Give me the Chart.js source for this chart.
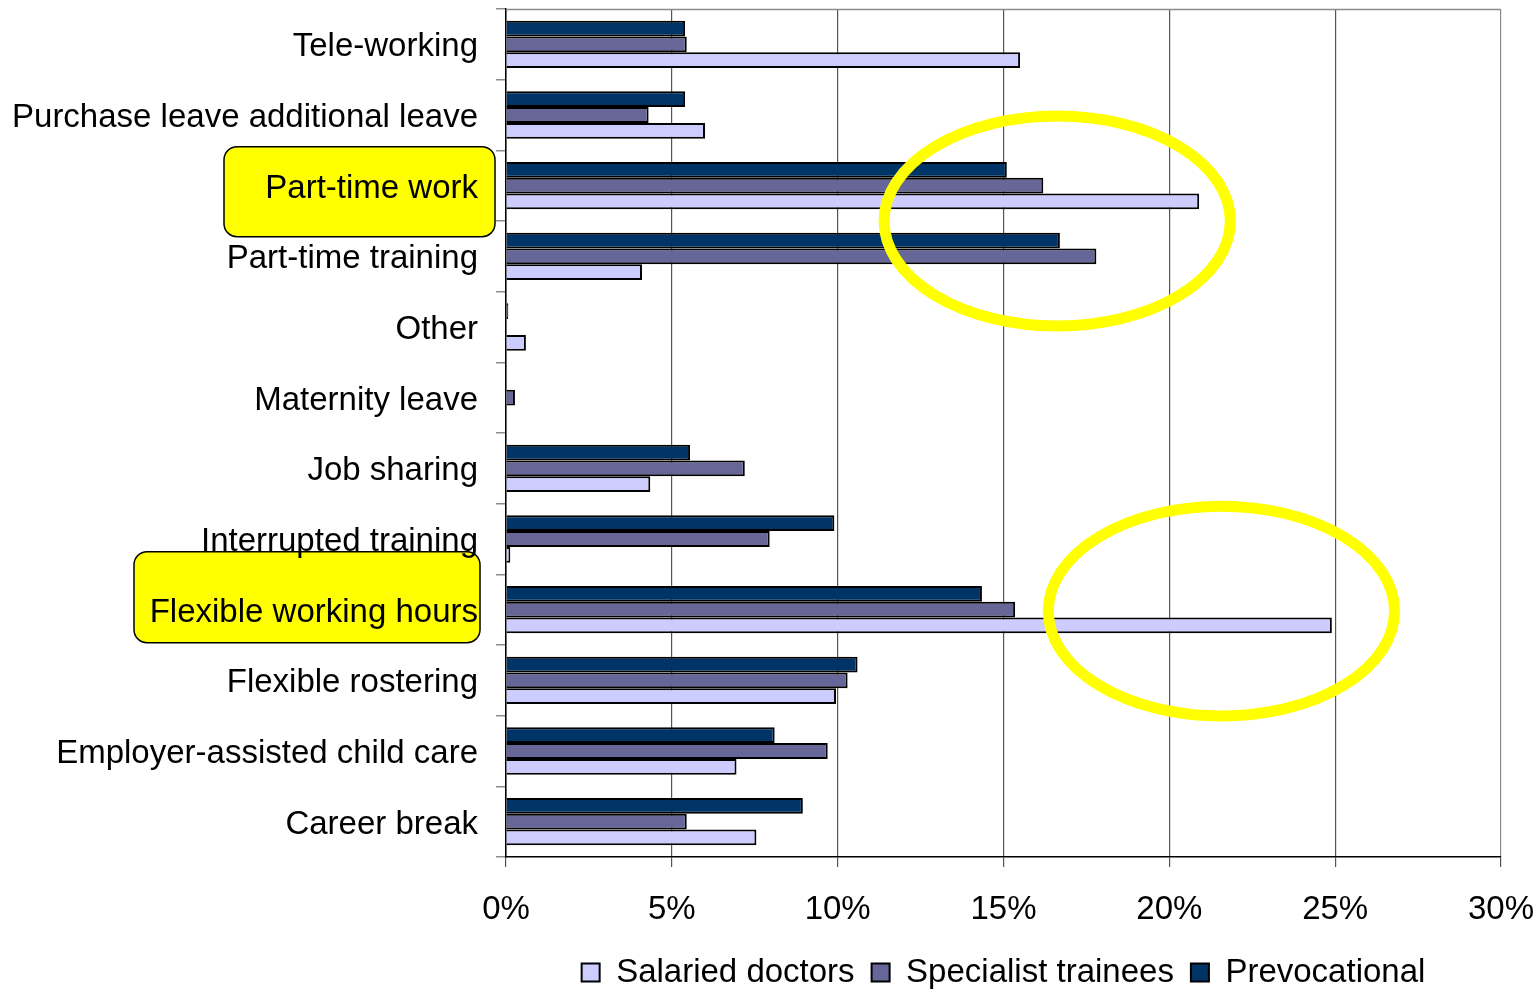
<!DOCTYPE html>
<html>
<head>
<meta charset="utf-8">
<script src="https://cdn.jsdelivr.net/npm/chart.js@4/dist/chart.umd.min.js"></script>
<style>
  html, body { margin: 0; padding: 0; background: #fff; }
  #wrap { width: 1539px; height: 989px; }
</style>
</head>
<body>
<div id="wrap"><canvas id="c" width="1539" height="989"></canvas></div>
<script>
// Flexible work options taken up, by doctor group (% of respondents)
const categories = [
  'Tele-working',
  'Purchase leave additional leave',
  'Part-time work',
  'Part-time training',
  'Other',
  'Maternity leave',
  'Job sharing',
  'Interrupted training',
  'Flexible working hours',
  'Flexible rostering',
  'Employer-assisted child care',
  'Career break'
];
const prevocational = [5.4, 5.4, 15.1, 16.7, 0.07, 0, 5.55, 9.9, 14.35, 10.6, 8.1, 8.95];
const specialistTrainees = [5.45, 4.3, 16.2, 17.8, 0, 0.27, 7.2, 7.95, 15.35, 10.3, 9.7, 5.45];
const salariedDoctors = [15.5, 6.0, 20.9, 4.1, 0.6, 0, 4.35, 0.13, 24.9, 9.95, 6.95, 7.55];
const xTicks = [0, 5, 10, 15, 20, 25, 30];

// Categories called out with a yellow label box
const highlightedLabels = ['Part-time work', 'Flexible working hours'];
// Ellipse call-outs in data space: x in %, y in category index units
const callouts = [
  { cx: 16.62, cy: 2.5, rx: 5.22, ry: 1.485 },
  { cx: 21.57, cy: 8.02, rx: 5.22, ry: 1.485 }
];

const FONT = "'Liberation Sans', Arial, sans-serif";

// Yellow boxes behind selected category labels (drawn beneath the axis text)
const labelBoxPlugin = {
  id: 'labelBoxes',
  beforeDraw(chart) {
    const { ctx } = chart;
    const y = chart.scales.y;
    const boxes = [
      { label: highlightedLabels[0], left: 224, right: 495, up: 39, down: 51 },
      { label: highlightedLabels[1], left: 134, right: 480, up: 58, down: 33 }
    ];
    ctx.save();
    boxes.forEach(b => {
      const cy = y.getPixelForValue(categories.indexOf(b.label));
      const top = cy - b.up, h = b.up + b.down, w = b.right - b.left;
      ctx.beginPath();
      ctx.roundRect(b.left, top, w, h, 13);
      ctx.fillStyle = '#ffff00';
      ctx.fill();
      ctx.lineWidth = 1.5;
      ctx.strokeStyle = '#000';
      ctx.stroke();
    });
    ctx.restore();
  }
};

// Plot frame top edge and the ellipse call-outs over the bars
const overlayPlugin = {
  id: 'overlay',
  beforeDatasetsDraw(chart) {
    const { ctx, chartArea } = chart;
    ctx.save();
    ctx.strokeStyle = '#8c8c8c';
    ctx.lineWidth = 1.5;
    ctx.beginPath();
    ctx.moveTo(chartArea.left, chartArea.top + 0.5);
    ctx.lineTo(chartArea.right, chartArea.top + 0.5);
    ctx.stroke();
    ctx.restore();
  },
  afterDatasetsDraw(chart) {
    const { ctx } = chart;
    const x = chart.scales.x, y = chart.scales.y;
    const step = y.getPixelForValue(1) - y.getPixelForValue(0);
    ctx.save();
    ctx.strokeStyle = '#ffff00';
    ctx.lineWidth = 11;
    callouts.forEach(c => {
      const px = x.getPixelForValue(c.cx);
      const py = y.getPixelForValue(0) + c.cy * step;
      const rx = x.getPixelForValue(c.cx + c.rx) - px;
      const ry = c.ry * step;
      ctx.beginPath();
      ctx.ellipse(px, py, rx, ry, 0, 0, Math.PI * 2);
      ctx.stroke();
    });
    ctx.restore();
  }
};

new Chart(document.getElementById('c'), {
  type: 'bar',
  data: {
    labels: categories,
    datasets: [
      { label: 'Prevocational', data: prevocational, backgroundColor: '#003366', borderColor: '#000', borderWidth: 2 },
      { label: 'Specialist trainees', data: specialistTrainees, backgroundColor: '#666699', borderColor: '#000', borderWidth: 2 },
      { label: 'Salaried doctors', data: salariedDoctors, backgroundColor: '#ccccff', borderColor: '#000', borderWidth: 2 }
    ]
  },
  options: {
    indexAxis: 'y',
    responsive: false,
    animation: false,
    devicePixelRatio: 1,
    categoryPercentage: 0.67,
    barPercentage: 1.0,
    layout: { padding: { top: 9, right: 38, left: 0, bottom: 0 } },
    plugins: {
      tooltip: { enabled: false },
      legend: {
        position: 'bottom',
        reverse: true,
        fullSize: false,
        maxHeight: 50,
        labels: {
          color: '#000',
          font: { family: FONT, size: 33 },
          boxWidth: 18,
          boxHeight: 18,
          padding: 17
        }
      }
    },
    scales: {
      x: {
        min: 0,
        max: 30,
        afterBuildTicks(scale) { scale.ticks = xTicks.map(v => ({ value: v })); },
        afterFit(scale) {
          scale.height = 82;
          scale.paddingLeft = 0;
          scale.paddingRight = 0;
        },
        ticks: {
          color: '#000',
          font: { family: FONT, size: 33 },
          padding: 23,
          maxRotation: 0,
          callback: v => v + '%'
        },
        grid: {
          color: ctx => (ctx.tick && ctx.tick.value === 30) ? '#8c8c8c' : '#555',
          tickColor: '#555',
          lineWidth: 1.2,
          tickLength: 10
        },
        border: { color: '#000', width: 1.5 }
      },
      y: {
        afterFit(scale) {
          scale.width = 506;
          scale.paddingTop = 0;
          scale.paddingBottom = 0;
        },
        ticks: {
          color: '#000',
          font: { family: FONT, size: 33 },
          padding: 18,
          labelOffset: 3,
          autoSkip: false
        },
        grid: {
          offset: true,
          drawOnChartArea: false,
          color: '#8c8c8c',
          lineWidth: 1.5,
          tickLength: 10
        },
        border: { color: '#000', width: 1.5 }
      }
    }
  },
  plugins: [labelBoxPlugin, overlayPlugin]
});
</script>
</body>
</html>
